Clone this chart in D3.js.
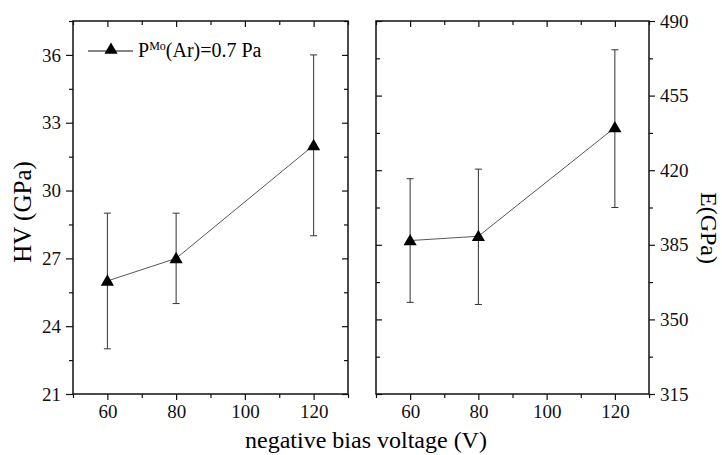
<!DOCTYPE html>
<html>
<head>
<meta charset="utf-8">
<script src="https://cdn.jsdelivr.net/npm/d3@7"></script>
<style>
  body { margin: 0; background: #fff; }
  svg, svg text { font-family: "Liberation Serif", "DejaVu Serif", serif; }
  .tick text { font-size: 19px; fill: #111; font-family: "Liberation Serif", serif; }
  .tick line { stroke: #111; stroke-width: 1.2; }
</style>
</head>
<body>
<div id="chart"></div>
<script>
// bias voltage (V)
var voltages = [60, 80, 120];
// hardness HV (GPa) with error range
var hv = [26, 27, 32];
var hvLow = [23, 25, 28];
var hvHigh = [29, 29, 36];
// Young's modulus E (GPa) with error range
var eMod = [387, 389, 440];
var eLow = [358, 357, 402.5];
var eHigh = [416, 420.5, 476.5];

var xTicks = [60, 80, 100, 120];
var xMinor = [50, 70, 90, 110, 130];
var hvTicks = [21, 24, 27, 30, 33, 36];
var hvMinor = [22.5, 25.5, 28.5, 31.5, 34.5, 37.5];
var eTicks = [315, 350, 385, 420, 455, 490];
var eMinor = [332.5, 367.5, 402.5, 437.5, 472.5];

var width = 722, height = 455;
var plotTop = 21, plotBottom = 394;

var svg = d3.select('#chart').append('svg')
    .attr('width', width)
    .attr('height', height);

var tri = d3.symbol().type(d3.symbolTriangle).size(75);

function panel(x0, x1, domainY, yTicks, yMinor, values, lows, highs, labelSide){
    var x = d3.scaleLinear().domain([50, 130]).range([x0, x1]);
    var y = d3.scaleLinear().domain(domainY).range([plotBottom, plotTop]);
    var g = svg.append('g');

    // bottom axis (outward)
    g.append('g').attr('transform', 'translate(0,' + plotBottom + ')')
        .call(d3.axisBottom(x).tickValues(xTicks).tickSize(6).tickSizeOuter(0).tickPadding(5));
    g.append('g').attr('transform', 'translate(0,' + plotBottom + ')')
        .call(d3.axisBottom(x).tickValues(xMinor).tickSize(4).tickFormat('').tickSizeOuter(0));
    // top mirror (inward)
    g.append('g').attr('transform', 'translate(0,' + plotTop + ')')
        .call(d3.axisBottom(x).tickValues(xTicks).tickSize(6).tickFormat('').tickSizeOuter(0));
    g.append('g').attr('transform', 'translate(0,' + plotTop + ')')
        .call(d3.axisBottom(x).tickValues(xMinor).tickSize(4).tickFormat('').tickSizeOuter(0));

    if(labelSide == 'left'){
        g.append('g').attr('transform', 'translate(' + x0 + ',0)')
            .call(d3.axisLeft(y).tickValues(yTicks).tickSize(7).tickSizeOuter(0).tickPadding(5));
        g.append('g').attr('transform', 'translate(' + x0 + ',0)')
            .call(d3.axisLeft(y).tickValues(yMinor).tickSize(4).tickFormat('').tickSizeOuter(0));
        g.append('g').attr('transform', 'translate(' + x1 + ',0)')
            .call(d3.axisLeft(y).tickValues(yTicks).tickSize(6).tickFormat('').tickSizeOuter(0));
        g.append('g').attr('transform', 'translate(' + x1 + ',0)')
            .call(d3.axisLeft(y).tickValues(yMinor).tickSize(4).tickFormat('').tickSizeOuter(0));
    }else{
        g.append('g').attr('transform', 'translate(' + x1 + ',0)')
            .call(d3.axisRight(y).tickValues(yTicks).tickSize(6).tickSizeOuter(0).tickPadding(5));
        g.append('g').attr('transform', 'translate(' + x1 + ',0)')
            .call(d3.axisRight(y).tickValues(yMinor).tickSize(4).tickFormat('').tickSizeOuter(0));
        g.append('g').attr('transform', 'translate(' + x0 + ',0)')
            .call(d3.axisRight(y).tickValues(yTicks).tickSize(6).tickFormat('').tickSizeOuter(0));
        g.append('g').attr('transform', 'translate(' + x0 + ',0)')
            .call(d3.axisRight(y).tickValues(yMinor).tickSize(4).tickFormat('').tickSizeOuter(0));
    }
    g.selectAll('.domain').remove();

    // frame
    g.append('rect')
        .attr('x', x0).attr('y', plotTop)
        .attr('width', x1 - x0).attr('height', plotBottom - plotTop)
        .attr('fill', 'none').attr('stroke', '#111').attr('stroke-width', 1.5);

    // error bars
    var eb = g.append('g').attr('stroke', '#333').attr('stroke-width', 1);
    voltages.forEach(function(v, i){
        var cx = x(v);
        eb.append('line').attr('x1', cx).attr('x2', cx).attr('y1', y(lows[i])).attr('y2', y(highs[i]));
        eb.append('line').attr('x1', cx - 3.5).attr('x2', cx + 3.5).attr('y1', y(lows[i])).attr('y2', y(lows[i]));
        eb.append('line').attr('x1', cx - 3.5).attr('x2', cx + 3.5).attr('y1', y(highs[i])).attr('y2', y(highs[i]));
    });

    // connecting line
    var line = d3.line().x(function(d, i){ return x(voltages[i]); }).y(function(d){ return y(d); });
    g.append('path').datum(values)
        .attr('d', line)
        .attr('fill', 'none').attr('stroke', '#444').attr('stroke-width', 0.9);

    g.selectAll('.marker').data(values).enter().append('path')
        .attr('class', 'marker')
        .attr('d', tri)
        .attr('transform', function(d, i){ return 'translate(' + x(voltages[i]) + ',' + (y(d) + 1) + ')'; })
        .attr('fill', '#000');
}

panel(73, 348, [21, 37.5], hvTicks, hvMinor, hv, hvLow, hvHigh, 'left');
panel(376, 649, [315, 490], eTicks, eMinor, eMod, eLow, eHigh, 'right');

// axis titles
svg.append('text')
    .attr('transform', 'translate(31,212) rotate(-90)')
    .attr('text-anchor', 'middle')
    .style('font-size', '25px')
    .text('HV (GPa)');

svg.append('text')
    .attr('transform', 'translate(701,228) rotate(90)')
    .attr('text-anchor', 'middle')
    .style('font-size', '24px')
    .text('E(GPa)');

svg.append('text')
    .attr('x', 366).attr('y', 448)
    .attr('text-anchor', 'middle')
    .style('font-size', '24px')
    .text('negative bias voltage (V)');

// legend
var lg = svg.append('g');
lg.append('line').attr('x1', 88).attr('x2', 133).attr('y1', 51).attr('y2', 51)
    .attr('stroke', '#111').attr('stroke-width', 1.2);
lg.append('path').attr('d', tri).attr('transform', 'translate(111,50)').attr('fill', '#000');
var lt = lg.append('text').attr('x', 138).attr('y', 57).style('font-size', '20px');
lt.append('tspan').text('P');
lt.append('tspan').attr('dy', -7).style('font-size', '12px').text('Mo');
lt.append('tspan').attr('dy', 7).text('(Ar)=0.7 Pa');
</script>
</body>
</html>
